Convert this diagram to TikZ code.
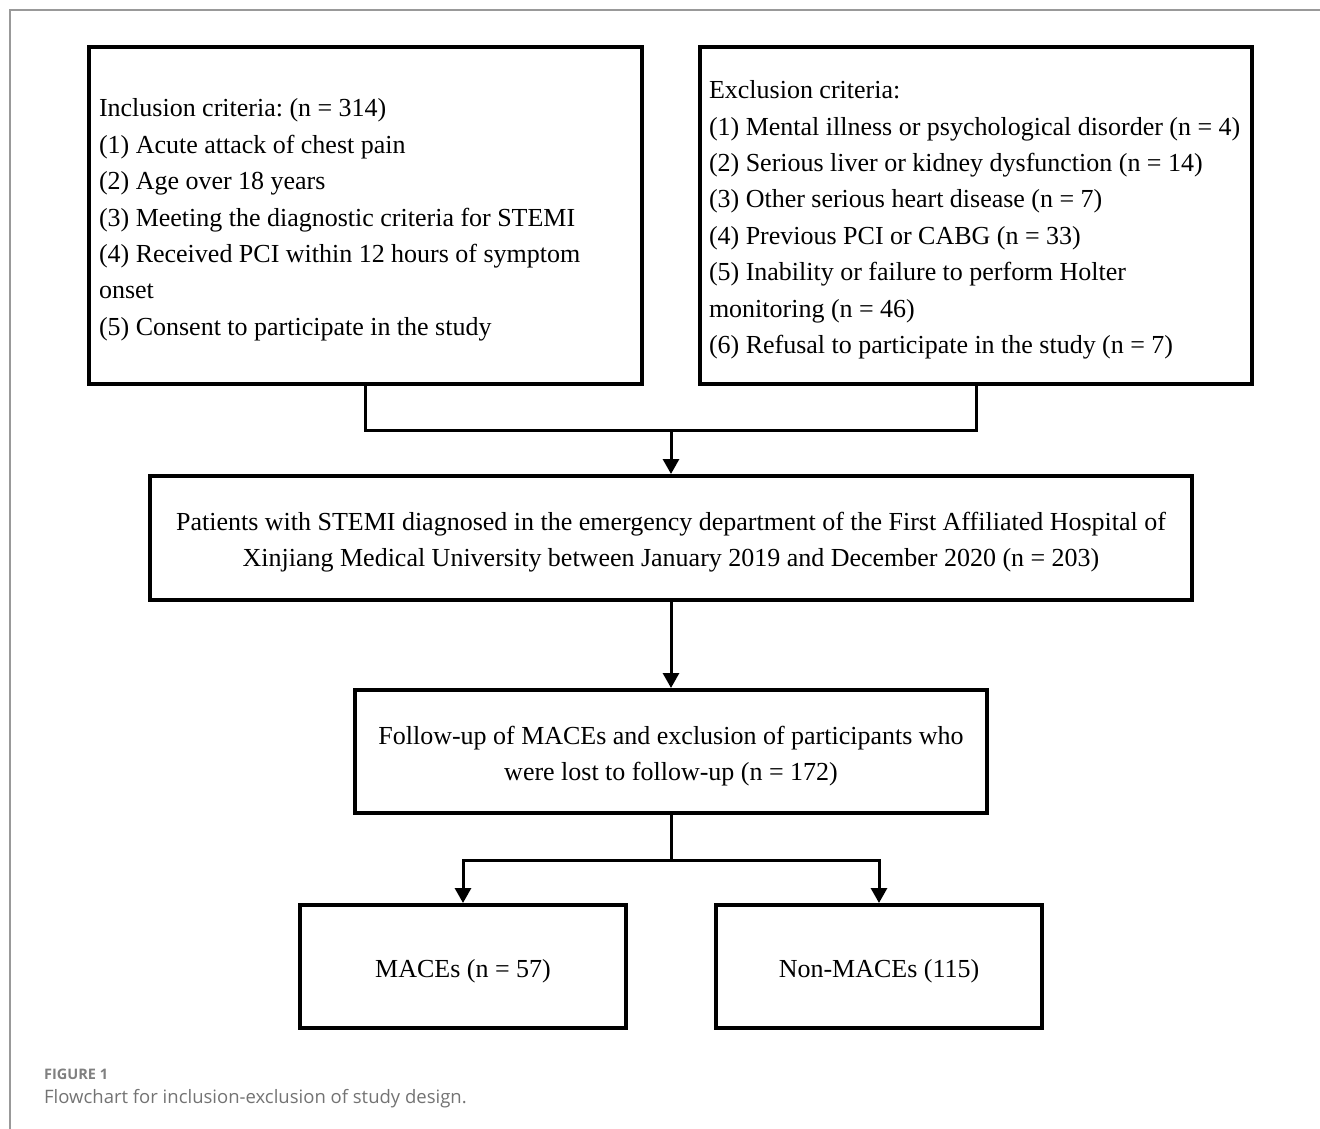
\documentclass[tikz,border=0pt]{standalone}
\usepackage{fontspec}
\setmainfont{Liberation Serif}
\newfontfamily\capfont{Open Sans}
\usetikzlibrary{positioning,arrows.meta}

\begin{document}
\begin{tikzpicture}[x=1pt,y=-1pt,
    box/.style={draw, line width=4pt, inner sep=0pt, align=center,
        font=\fontsize{26}{36.4}\selectfont\frenchspacing,
        execute at begin node={\spaceskip=6.45pt\relax\noindent\vrule height 27pt depth 0pt width 0pt\relax}},
    listbox/.style={box, align=left, text width=#1},
    textbox/.style={box, align=center, text width=#1},
    link/.style={line width=3pt},
    flow/.style={link, -{Triangle[width=16pt,length=15pt]}},
    ]
\useasboundingbox (0,0) rectangle (1320,1129);
\draw[gray!80, line width=1.2pt] (1320,10) -- (10,10) -- (10,1129);

% criteria boxes
\node[listbox=533pt, minimum width=553pt, minimum height=337pt] (incl) at (365.5,215.5)
    {Inclusion criteria: (n = 314)\\
    (1) Acute attack of chest pain\\
    (2) Age over 18 years\\
    (3) Meeting the diagnostic criteria for STEMI\\
    (4) Received PCI within 12 hours of symptom\\
    onset\\
    (5) Consent to participate in the study};
\node[listbox=534pt, minimum width=552pt, minimum height=337pt] (excl) at (976,215.5)
    {Exclusion criteria:\\
    (1) Mental illness or psychological disorder (n = 4)\\
    (2) Serious liver or kidney dysfunction (n = 14)\\
    (3) Other serious heart disease (n = 7)\\
    (4) Previous PCI or CABG (n = 33)\\
    (5) Inability or failure to perform Holter\\
    monitoring (n = 46)\\
    (6) Refusal to participate in the study (n = 7)};

% main flow
\node[textbox=1030pt, minimum width=1042pt, minimum height=124pt] (pat) at (671,538)
    {Patients with STEMI diagnosed in the emergency department of the First Affiliated Hospital of\\
    Xinjiang Medical University between January 2019 and December 2020 (n = 203)};
\node[textbox=620pt, minimum width=632pt, minimum height=123pt] (fup) at (671,751.5)
    {Follow-up of MACEs and exclusion of participants who\\
    were lost to follow-up (n = 172)};
\node[box, minimum width=326pt, minimum height=123pt] (mace) at (463,966.5) {MACEs (n = 57)};
\node[box, minimum width=326pt, minimum height=123pt] (nonmace) at (879,966.5) {Non-MACEs (115)};

\coordinate (j1) at (671,430);
\coordinate (j2) at (671,860);

\draw[link] (incl.south) |- (j1) -| (excl.south);
\draw[flow] (j1) -- (pat.north);
\draw[flow] (pat.south) -- (fup.north);
\draw[link] (fup.south) -- (j2);
\draw[flow] (j2) -| (mace.north);
\draw[flow] (j2) -| (nonmace.north);

% caption
\node[anchor=base west, inner sep=0pt, text=gray, font=\capfont\bfseries\fontsize{14.5}{16}\selectfont] (fig) at (44,1079) {FIGURE 1};
\node[anchor=base west, inner sep=0pt, text=gray!90!black, font=\capfont\fontsize{18.5}{22}\selectfont] (cap) at (44,1103) {Flowchart for inclusion-exclusion of study design.};
\end{tikzpicture}
\end{document}
